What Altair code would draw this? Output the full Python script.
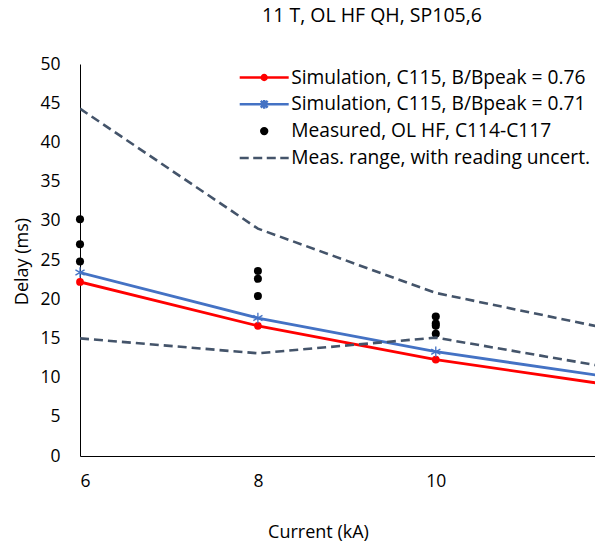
import altair as alt
import pandas as pd

# ---- data ----
current = [6, 8, 10, 12]
sim_076 = [22.2, 16.6, 12.3, 9.0]
sim_071 = [23.4, 17.6, 13.3, 10.0]
range_upper = [44.3, 29.0, 20.8, 16.1]
range_lower = [15.0, 13.1, 15.1, 11.2]
meas_current = [6, 6, 6, 8, 8, 8, 10, 10, 10, 10]
meas_delay = [30.2, 27.0, 24.8, 23.6, 22.6, 20.4, 17.8, 16.9, 16.6, 15.6]

series_names = [
    "Simulation, C115, B/Bpeak = 0.76",
    "Simulation, C115, B/Bpeak = 0.71",
    "Measured, OL HF, C114-C117",
    "Meas. range, with reading uncert.",
]
series_colors = ["#FF0000", "#4472C4", "#000000", "#44546A"]

FONT = "Open Sans"

legend_paths = [
    "M-2.5,0H2.5M0.25,0A0.25,0.25,0,1,1,-0.25,0A0.25,0.25,0,1,1,0.25,0Z",
    "M-2.5,0H2.5M-0.35,-0.35L0.35,0.35M-0.35,0.35L0.35,-0.35M0,-0.45V0.45",
    "M0.3,0A0.3,0.3,0,1,1,-0.3,0A0.3,0.3,0,1,1,0.3,0Z",
    "M-2.5,0H-1.58M-1.12,0H-0.2M0.26,0H1.18M1.64,0H2.5",
]
asterisk = "M0,-1V1M-0.87,-0.5L0.87,0.5M-0.87,0.5L0.87,-0.5"

sim76_df = pd.DataFrame({"current": current, "delay": sim_076})
sim71_df = pd.DataFrame({"current": current, "delay": sim_071})
range_df = pd.DataFrame({
    "current": current + current,
    "delay": range_upper + range_lower,
    "bound": ["upper"] * len(current) + ["lower"] * len(current),
})
meas_df = pd.DataFrame({"current": meas_current, "delay": meas_delay})
legend_df = pd.DataFrame({"series": series_names})

x_enc = alt.X(
    "current:Q",
    scale=alt.Scale(domain=[6, 11.79], nice=False, zero=False),
    axis=alt.Axis(
        values=[6, 8, 10], title="Current (kA)", ticks=False, grid=False,
        labelPadding=16, titleX=238, titleY=76, titleBaseline="middle",
        titleAnchor="start", titleAlign="center",
    ),
)
y_enc = alt.Y(
    "delay:Q",
    scale=alt.Scale(domain=[0, 50], nice=False),
    axis=alt.Axis(
        values=list(range(0, 51, 5)), title="Delay (ms)", ticks=False, grid=False,
        labelPadding=20, titleX=-52.5, titleY=197, titleAngle=-90,
        titleBaseline="alphabetic", titleAlign="center", titleAnchor="start",
    ),
)

red_line = alt.Chart(sim76_df).mark_line(color="#FF0000", strokeWidth=2.8, clip=True).encode(x=x_enc, y=y_enc)
red_pts = alt.Chart(sim76_df).transform_filter("datum.current <= 10").mark_circle(
    color="#FF0000", size=60, opacity=1).encode(x=x_enc, y=y_enc)
blue_line = alt.Chart(sim71_df).mark_line(color="#4472C4", strokeWidth=2.8, clip=True).encode(x=x_enc, y=y_enc)
blue_pts = alt.Chart(sim71_df).transform_filter("datum.current <= 10").mark_point(
    shape=asterisk, stroke="#4472C4", strokeWidth=1.3, size=110, opacity=1, filled=False).encode(x=x_enc, y=y_enc)
meas_pts = alt.Chart(meas_df).mark_circle(color="#000000", size=65, opacity=1).encode(x=x_enc, y=y_enc)
range_lines = alt.Chart(range_df).mark_line(
    color="#44546A", strokeWidth=2.6, strokeDash=[9, 5], clip=True).encode(x=x_enc, y=y_enc, detail="bound:N")

leg = alt.Legend(
    title=None, orient="none", legendX=172.7, legendY=2, padding=0,
    labelFont=FONT, labelFontSize=19.2, labelColor="#000000", labelOffset=15.5,
    rowPadding=4.8, symbolSize=384, symbolStrokeWidth=2.5, labelLimit=400,
)
legend_layer = alt.Chart(legend_df).transform_filter("false").mark_point(
    filled=True, size=384, strokeWidth=2.5, opacity=1).encode(
    shape=alt.Shape("series:N", scale=alt.Scale(domain=series_names, range=legend_paths), legend=leg),
    fill=alt.Fill("series:N", scale=alt.Scale(domain=series_names, range=series_colors), legend=leg),
    stroke=alt.Stroke("series:N", scale=alt.Scale(domain=series_names, range=series_colors), legend=leg),
)

chart = alt.layer(
    red_line, blue_line, red_pts, blue_pts, meas_pts, range_lines, legend_layer
).properties(
    width=515, height=392,
    title=alt.TitleParams(
        "11 T, OL HF QH, SP105,6", font=FONT, fontSize=19.5, fontWeight="normal",
        color="#000000", anchor="middle", dx=34.5, offset=29,
    ),
    autosize=alt.AutoSizeParams(type="none"),
    padding={"left": 80, "top": 64, "right": 0, "bottom": 87},
).configure_view(stroke=None).configure_axis(
    labelFont=FONT, labelFontSize=17.5, labelColor="#000000",
    titleFont=FONT, titleFontSize=18, titleFontWeight="normal", titleColor="#000000",
    domainColor="#000000", domainWidth=1,
)

chart.save("out.html", embed_options={"renderer": "svg", "actions": False})
